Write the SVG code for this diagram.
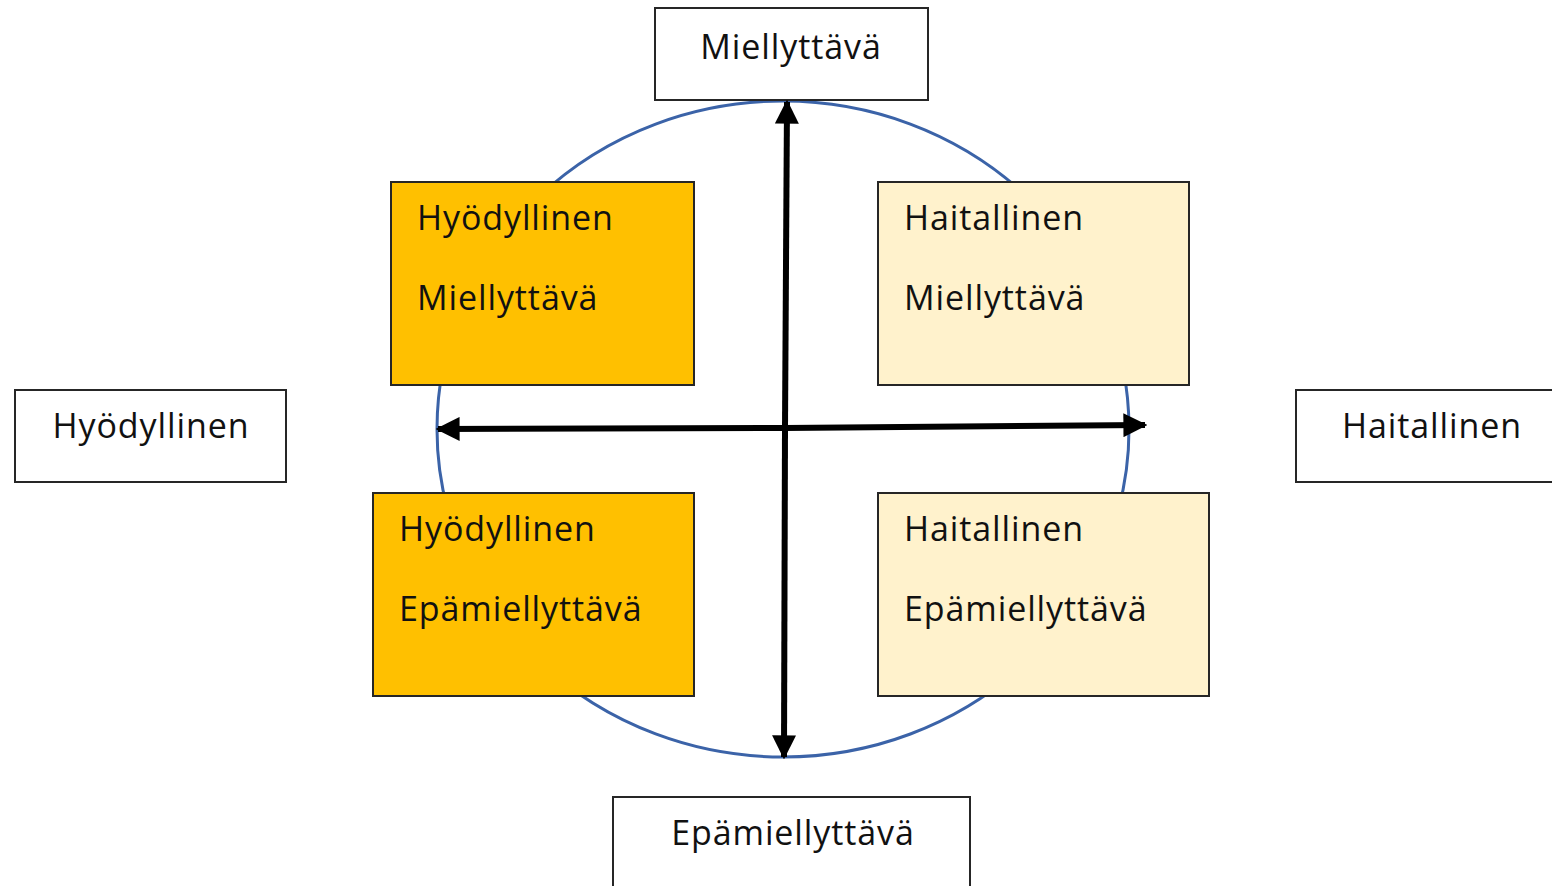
<svg xmlns="http://www.w3.org/2000/svg" width="1552" height="886" viewBox="0 0 1552 886">
<style>
.box{fill:#fff;stroke:#262626;stroke-width:2}
.q1{fill:#FFC000;stroke:#262626;stroke-width:2}
.q2{fill:#FFF2CC;stroke:#262626;stroke-width:2}
text{font-family:"Open Sans","Liberation Sans",sans-serif;font-size:34px;letter-spacing:0.9px;fill:#111}
.ax{stroke:#000;stroke-width:6;fill:none;marker-end:url(#ah)}
</style>
<defs>
<marker id="ah" viewBox="0 0 10 10" refX="9" refY="5" markerWidth="4" markerHeight="4" orient="auto" markerUnits="strokeWidth">
<path d="M0,0 L10,5 L0,10 z" fill="#000"/>
</marker>
</defs>
<ellipse id="circle" cx="783" cy="429" rx="346" ry="328" fill="none" stroke="#3B63A8" stroke-width="3"/>
<g id="top"><rect class="box" x="655" y="8" width="273" height="92"/><text x="791" y="59" text-anchor="middle">Miellyttävä</text></g>
<g id="left"><rect class="box" x="15" y="390" width="271" height="92"/><text x="151" y="438" text-anchor="middle">Hyödyllinen</text></g>
<g id="right"><rect class="box" x="1296" y="390" width="270" height="92"/><text x="1432" y="438" text-anchor="middle">Haitallinen</text></g>
<g id="bottom"><rect class="box" x="613" y="797" width="357" height="100"/><text x="793" y="845" text-anchor="middle">Epämiellyttävä</text></g>
<g id="q-tl"><rect class="q1" x="391" y="182" width="303" height="203"/><text x="417" y="230">Hyödyllinen</text><text x="417" y="310">Miellyttävä</text></g>
<g id="q-tr"><rect class="q2" x="878" y="182" width="311" height="203"/><text x="904" y="230">Haitallinen</text><text x="904" y="310">Miellyttävä</text></g>
<g id="q-bl"><rect class="q1" x="373" y="493" width="321" height="203"/><text x="399" y="541">Hyödyllinen</text><text x="399" y="621">Epämiellyttävä</text></g>
<g id="q-br"><rect class="q2" x="878" y="493" width="331" height="203"/><text x="904" y="541">Haitallinen</text><text x="904" y="621">Epämiellyttävä</text></g>
<g id="connectors">
<line class="ax" x1="785" y1="428" x2="787" y2="102"/>
<line class="ax" x1="785" y1="428" x2="784" y2="757"/>
<line class="ax" x1="785" y1="428" x2="438" y2="429"/>
<line class="ax" x1="785" y1="428" x2="1145" y2="425"/>
</g>
</svg>
